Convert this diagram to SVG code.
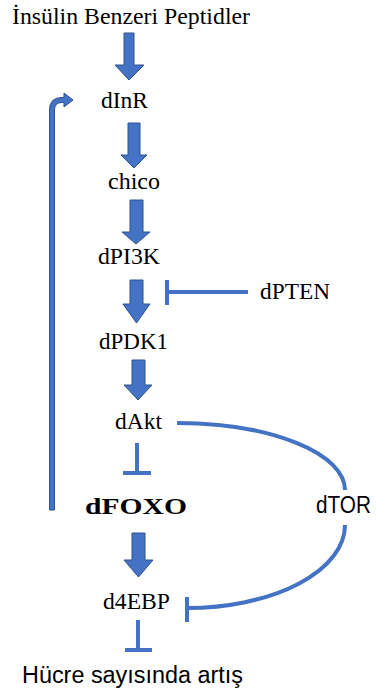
<svg xmlns="http://www.w3.org/2000/svg" width="376" height="693" viewBox="0 0 376 693">
<style>
.serif{font-family:"Liberation Serif","Times New Roman",serif;font-size:23.5px;fill:#000}
.sans{font-family:"Liberation Sans",Arial,sans-serif;font-size:23px;fill:#000}
.blk{fill:#4472C4;stroke:#2F528F;stroke-width:1}
.ln{fill:none;stroke:#4472C4;stroke-width:4}
</style>
<rect width="376" height="693" fill="#fff"/>
<g id="connectors">
<polygon class="blk" points="124,33 134,33 134,65 144,65 129,80 115,65 124,65"/>
<polygon class="blk" points="128,123 140,123 140,155 147,155 134,168 121,155 128,155"/>
<polygon class="blk" points="130,200 143,200 143,232 150,232 136,244 122,232 130,232"/>
<polygon class="blk" points="130,280 143,280 143,304 150,304 136.5,323 123,304 130,304"/>
<polygon class="blk" points="132,360 145,360 145,385 152,385 138,400 124,385 132,385"/>
<polygon class="blk" points="132,533 145,533 145,560 153,560 138.5,577 124,560 132,560"/>
<path class="blk" d="M49.5,510 V110 Q49.5,97.5 62,97.5 H64 V93 L73,100 L64,107 V102.5 H62 Q54.5,102.5 54.5,110 V510 Z"/>
<path class="ln" d="M248,292 H167 M167,280 V305"/>
<path class="ln" d="M137,443 V473 M123,473 H151"/>
<path class="ln" d="M138,620 V650 M125,650 H152"/>
<path class="ln" d="M177,423 A168,67 0 0 1 345,490"/>
<path class="ln" d="M345,525 A158,83 0 0 1 187,608 M187,597 V622"/>
</g>
<g id="n_ilp"><text class="serif" x="12" y="24" textLength="238" lengthAdjust="spacingAndGlyphs">İnsülin Benzeri Peptidler</text></g>
<g id="n_dinr"><text class="serif" x="101" y="108" textLength="47" lengthAdjust="spacingAndGlyphs">dInR</text></g>
<g id="n_chico"><text class="serif" x="108" y="189" textLength="52" lengthAdjust="spacingAndGlyphs">chico</text></g>
<g id="n_dpi3k"><text class="serif" x="98" y="264" textLength="62" lengthAdjust="spacingAndGlyphs">dPI3K</text></g>
<g id="n_dpten"><text class="serif" x="260" y="299" textLength="70" lengthAdjust="spacingAndGlyphs">dPTEN</text></g>
<g id="n_dpdk1"><text class="serif" x="99" y="349" textLength="69" lengthAdjust="spacingAndGlyphs">dPDK1</text></g>
<g id="n_dakt"><text class="serif" x="115" y="429" textLength="47" lengthAdjust="spacingAndGlyphs">dAkt</text></g>
<g id="n_dfoxo"><text class="serif" x="85" y="514" font-size="29.5" font-weight="bold" textLength="102" lengthAdjust="spacingAndGlyphs">dFOXO</text></g>
<g id="n_dtor"><text class="sans" x="316" y="513" textLength="55" lengthAdjust="spacingAndGlyphs">dTOR</text></g>
<g id="n_d4ebp"><text class="serif" x="103" y="609" textLength="67" lengthAdjust="spacingAndGlyphs">d4EBP</text></g>
<g id="n_hucre"><text class="sans" x="22" y="683" textLength="221" lengthAdjust="spacingAndGlyphs">Hücre sayısında artış</text></g>
</svg>
